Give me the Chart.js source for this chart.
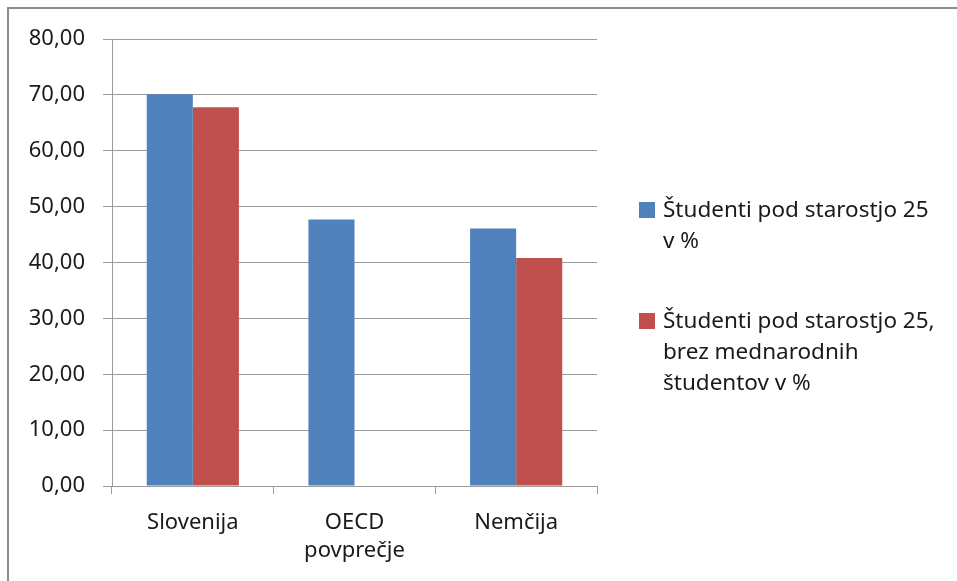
<!DOCTYPE html>
<html>
<head>
<meta charset="utf-8">
<script src="https://cdn.jsdelivr.net/npm/chart.js@4/dist/chart.umd.min.js"></script>
<style>
  html, body { margin: 0; padding: 0; background: #fff; }
  #wrap { position: relative; width: 957px; height: 581px; overflow: hidden; }
  #frame { position: absolute; left: 7px; top: 7px; width: 1000px; height: 700px; border: 2px solid #8c8c8c; box-sizing: border-box; }
  #chart { position: absolute; left: 0; top: 0; }
  .legend { position: absolute; left: 639px; font-family: "Noto Sans", sans-serif; font-size: 22.5px; line-height: 31px; color: #1a1a1a; white-space: pre-line; }
  .legend .sw { position: absolute; left: 0; top: 9px; width: 16px; height: 16px; }
  .legend .tx { margin-left: 24px; }
</style>
</head>
<body>
<div id="wrap">
  <div id="frame"></div>
  <canvas id="chart" width="957" height="581"></canvas>
  <div id="legend"></div>
</div>
<script>
// categories and values
const categories = [['Slovenija'], ['OECD', 'povprečje'], ['Nemčija']];
const under25 = [70.1, 47.7, 46.1];
const under25NoIntl = [67.8, null, 40.8];
const seriesNames = ['Študenti pod starostjo 25\nv %', 'Študenti pod starostjo 25,\nbrez mednarodnih\nštudentov v %'];
const seriesColors = ['#4f81bd', '#c0504d'];
const yTicks = [0, 10, 20, 30, 40, 50, 60, 70, 80];

const font = { family: '"Noto Sans", sans-serif', size: 22 };
const gridColor = '#9c9c9c';

new Chart(document.getElementById('chart'), {
    type: 'bar',
    data: {
        labels: categories,
        datasets: [
            { label: seriesNames[0], data: under25, backgroundColor: seriesColors[0] },
            { label: seriesNames[1], data: under25NoIntl, backgroundColor: seriesColors[1] }
        ]
    },
    options: {
        responsive: false,
        animation: false,
        datasets: { bar: { categoryPercentage: 0.57, barPercentage: 1.0 } },
        layout: { padding: { left: 0, top: 39, right: 360, bottom: 0 } },
        plugins: { legend: { display: false }, tooltip: { enabled: false } },
        scales: {
            x: {
                grid: { drawOnChartArea: false, drawTicks: true, tickLength: 8, color: gridColor, offset: true },
                border: { color: gridColor, width: 1 },
                ticks: { color: '#1a1a1a', font: { ...font, lineHeight: 28 / 22 }, padding: 15, maxRotation: 0, autoSkip: false },
                afterFit: s => { s.height = 95; }
            },
            y: {
                min: 0,
                max: 80,
                afterBuildTicks: s => { s.ticks = yTicks.map(v => ({ value: v })); },
                grid: { color: gridColor, tickLength: 9, lineWidth: 1 },
                border: { color: gridColor, width: 1 },
                ticks: {
                    color: '#1a1a1a', font: font, padding: 18,
                    callback: v => v.toFixed(2).replace('.', ',')
                },
                afterFit: s => { s.width = 112; }
            }
        }
    }
});

// legend as html next to the plot
const legendTops = [193, 304];
const legend = document.getElementById('legend');
seriesNames.forEach((name, i) => {
    const item = document.createElement('div');
    item.className = 'legend';
    item.style.top = legendTops[i] + 'px';
    item.innerHTML = `<span class="sw" style="background:${seriesColors[i]}"></span><div class="tx"></div>`;
    item.querySelector('.tx').textContent = name;
    legend.appendChild(item);
});
</script>
</body>
</html>
